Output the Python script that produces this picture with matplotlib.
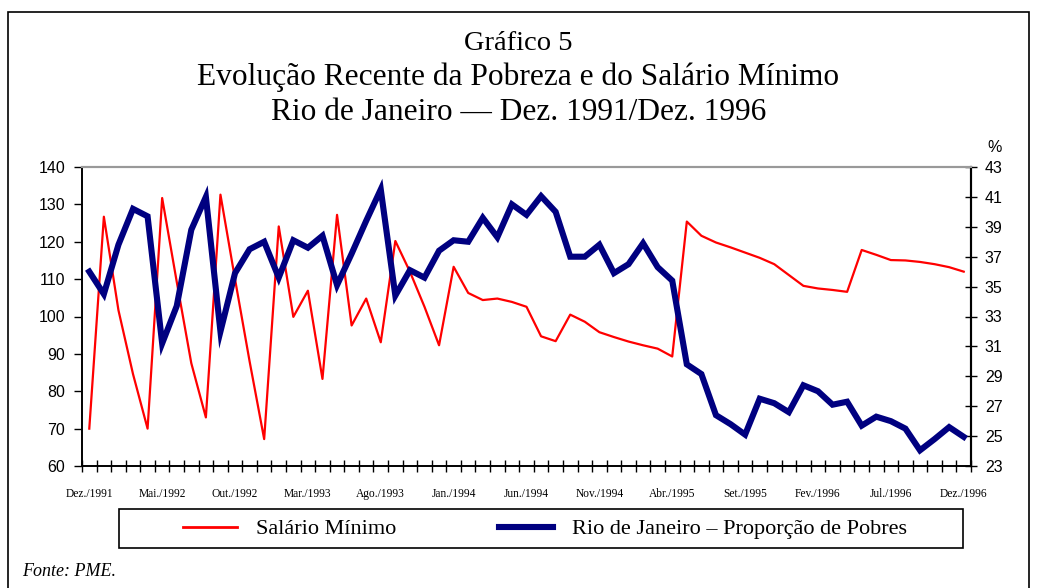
import numpy as np
import matplotlib
matplotlib.use("Agg")
import matplotlib.pyplot as plt
from matplotlib.lines import Line2D
from matplotlib.patches import Rectangle

# ------------------ Data ------------------
# monthly series, Dez./1991 .. Dez./1996 (61 months)
salario_minimo = [70.0, 126.7, 101.7, 84.6, 70.0, 131.7, 109.3, 87.5, 73.0, 132.6,
                  110.0, 88.0, 67.2, 124.1, 99.9, 106.9, 83.3, 127.2, 97.6, 104.8,
                  93.1, 120.2, 112.0, 102.6, 92.3, 113.3, 106.3, 104.4, 104.8, 103.9,
                  102.6, 94.7, 93.4, 100.5, 98.6, 95.8, 94.5, 93.3, 92.3, 91.4,
                  89.3, 125.4, 121.6, 119.8, 118.5, 117.1, 115.7, 114.0, 111.1, 108.2,
                  107.5, 107.1, 106.6, 117.8, 116.5, 115.1, 115.0, 114.6, 114.0, 113.2,
                  112.0]

proporcao_pobres = [36.0, 34.5, 37.8, 40.2, 39.7, 31.2, 33.7, 38.8, 41.0, 32.0,
                    35.9, 37.5, 38.0, 35.6, 38.1, 37.6, 38.4, 35.1, 37.2, 39.4,
                    41.5, 34.4, 36.1, 35.6, 37.4, 38.1, 38.0, 39.6, 38.3, 40.5,
                    39.8, 41.05, 40.0, 37.0, 37.0, 37.8, 35.9, 36.5, 37.9, 36.3,
                    35.4, 29.8, 29.15, 26.4, 25.8, 25.1, 27.5, 27.2, 26.6, 28.4,
                    28.0, 27.1, 27.3, 25.7, 26.3, 26.0, 25.5, 24.05, 24.8, 25.6,
                    24.95]

x_labels = ["Dez./1991", "Mai./1992", "Out./1992", "Mar./1993", "Ago./1993",
            "Jan./1994", "Jun./1994", "Nov./1994", "Abr./1995", "Set./1995",
            "Fev./1996", "Jul./1996", "Dez./1996"]

left_ticks = [60, 70, 80, 90, 100, 110, 120, 130, 140]
right_ticks = [23, 25, 27, 29, 31, 33, 35, 37, 39, 41, 43]

# ------------------ Figure ------------------
serif = "Liberation Serif"
sans = "Liberation Sans"

fig = plt.figure(figsize=(10.37, 5.88), dpi=100)
ax = fig.add_axes([82 / 1037, 1 - 466 / 588, (971 - 82) / 1037, (466 - 167) / 588])
ax2 = ax.twinx()

n = np.arange(len(salario_minimo))
ax.plot(n, salario_minimo, color="#ff0000", lw=1.6)           # red thin line
ax2.plot(n, proporcao_pobres, color="#000080", lw=4.4,         # navy thick line
         solid_joinstyle="miter")

# x axis: a tick on each month boundary, labels every 5 months
ax.set_xlim(-0.5, len(n) - 0.5)
ax.set_xticks(np.arange(-0.5, len(n), 1.0), minor=True)
ax.set_xticks(np.arange(0, len(n), 5))
ax.set_xticklabels(x_labels, fontfamily=serif, fontsize=8.3)
ax.tick_params(axis="x", which="major", length=0, pad=16)
ax.tick_params(axis="x", which="minor", direction="inout", length=9, width=1)

# left axis
ax.set_ylim(60, 140)
ax.set_yticks(left_ticks)
ax.set_yticklabels([str(v) for v in left_ticks], fontfamily=sans, fontsize=11.5)
ax.tick_params(axis="y", direction="out", length=6, width=1, pad=6)

# right axis
ax2.set_ylim(23, 43)
ax2.set_yticks(right_ticks)
ax2.set_yticklabels([str(v) for v in right_ticks], fontfamily=sans, fontsize=11.5)
ax2.tick_params(axis="y", direction="inout", length=8, width=1, pad=6)

for a in (ax, ax2):
    a.spines["top"].set_color("#999999")
    a.spines["top"].set_linewidth(1.5)
    a.spines["left"].set_linewidth(1.2)
    a.spines["right"].set_linewidth(1.5)
    a.spines["bottom"].set_linewidth(1.2)

# "%" unit on top of the right axis
fig.text(987 / 1037, 1 - 147 / 588, "%", fontfamily=sans, fontsize=11.5,
         ha="left", va="center")

# titles
fig.text(0.5, 1 - 43 / 588, "Gráfico 5", fontfamily=serif, fontsize=20.5,
         ha="center", va="center")
fig.text(0.5, 1 - 77 / 588, "Evolução Recente da Pobreza e do Salário Mínimo",
         fontfamily=serif, fontsize=22.6, ha="center", va="center")
fig.text(0.5, 1 - 112 / 588, "Rio de Janeiro — Dez. 1991/Dez. 1996",
         fontfamily=serif, fontsize=22.6, ha="center", va="center")

# legend box drawn by hand, entries placed with a frameless legend
fig.add_artist(Rectangle((119 / 1037, 1 - 548 / 588), (963 - 119) / 1037, 39 / 588,
                         transform=fig.transFigure, fill=False, edgecolor="black",
                         lw=1.2))
handles = [Line2D([], [], color="#ff0000", lw=2),
           Line2D([], [], color="#000080", lw=4.4)]
fig.legend(handles, ["Salário Mínimo", "Rio de Janeiro – Proporção de Pobres"],
           loc="center", bbox_to_anchor=(545 / 1037, 1 - 529 / 588), ncol=2,
           frameon=False, prop={"family": serif, "size": 16},
           handlelength=2.43, handletextpad=0.85, columnspacing=4.6)

fig.text(22 / 1037, 1 - 571 / 588, "Fonte: PME.", fontfamily=serif, fontsize=13,
         style="italic", ha="left", va="center")

# outer frame around the whole chart
fig.add_artist(Rectangle((8 / 1037, -0.05), (1029 - 8) / 1037, 1.05 - 12 / 588,
                         transform=fig.transFigure, fill=False, edgecolor="black",
                         lw=1.2))

fig.savefig("out.png", dpi=100)
